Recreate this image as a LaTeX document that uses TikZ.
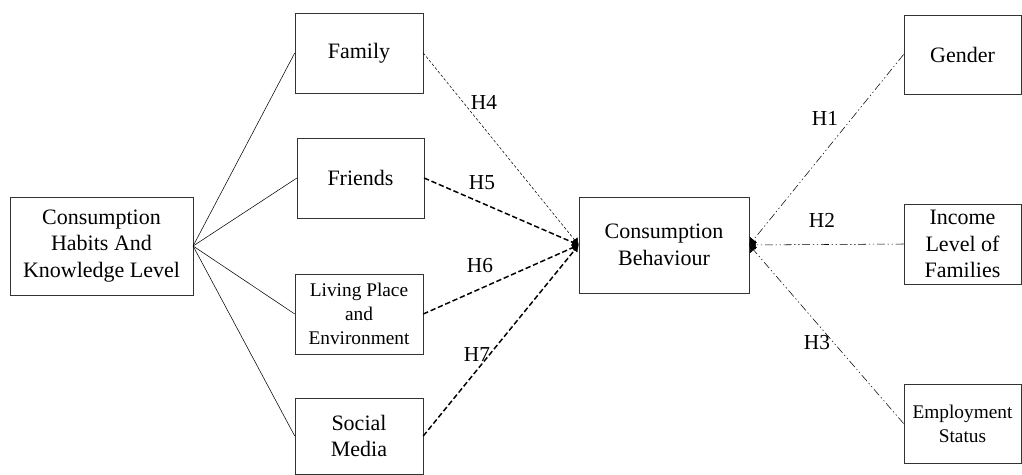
\documentclass[tikz,border=0pt]{standalone}
\usepackage{fontspec}
\setmainfont{Liberation Serif}
\usepackage{tikz}
\usetikzlibrary{arrows, arrows.meta}

\tikzset{
  box/.style={draw=black!80,thin,align=center,inner sep=2pt,font=\fontsize{16.5}{20}\selectfont},
  smallbox/.style={box,font=\fontsize{14.5}{18}\selectfont},
  hlabel/.style={font=\fontsize{16}{20}\selectfont},
  dotline/.style={thin,dash pattern=on 2pt off 1.5pt,-{Latex[length=5pt,width=6pt]}},
  dashline/.style={line width=1.1pt,dash pattern=on 4pt off 2pt,-{Latex[length=5pt,width=6pt]}},
  dashdot/.style={thin,dash pattern=on 6pt off 2pt on 1pt off 2pt on 1pt off 2pt,-{Latex[length=5pt,width=7pt]}}
}

\begin{document}
\begin{tikzpicture}[x=0.75pt,y=-0.75pt]
\useasboundingbox (0,0) rectangle (1022,475);
% left side
\node[box,minimum width=137pt,minimum height=73.5pt] (habit) at (101.5,246) {Consumption\\Habits And\\Knowledge Level};
\node[box,minimum width=96pt,minimum height=60pt] (family) at (359,53) {Family};
\node[box,minimum width=95pt,minimum height=60pt] (friends) at (360.5,178) {Friends};
\node[smallbox,minimum width=96pt,minimum height=60pt] (living) at (359,314) {Living Place\\and\\Environment};
\node[box,minimum width=96pt,minimum height=57pt] (social) at (359,436) {Social\\Media};
% middle
\node[box,minimum width=127.5pt,minimum height=72pt] (behav) at (664,245) {Consumption\\Behaviour};
% right side
\node[box,minimum width=88pt,minimum height=59pt] (gender) at (962.5,54.5) {Gender};
\node[box,minimum width=88pt,minimum height=60pt] (income) at (962.5,244) {Income\\Level of\\Families};
\node[smallbox,minimum width=88pt,minimum height=59pt] (employ) at (962.5,423.5) {Employment\\Status};

\draw[thin] (habit.east) -- (family.west);
\draw[thin] (habit.east) -- (friends.west);
\draw[thin] (habit.east) -- (living.west);
\draw[thin] (habit.east) -- (social.west);

\draw[dotline]  (family.east) -- (behav.west);
\draw[dashline] (friends.east) -- (behav.west);
\draw[dashline] (living.east) -- (behav.west);
\draw[dashline] (social.east) -- (behav.west);

\draw[dashdot] (gender.west) -- (behav.east);
\draw[dashdot] (income.west) -- (behav.east);
\draw[dashdot] (employ.west) -- (behav.east);

\node[hlabel] (h4) at (484,102) {H4};
\node[hlabel] (h5) at (482,183) {H5};
\node[hlabel] (h6) at (480,266) {H6};
\node[hlabel] (h7) at (477,355) {H7};
\node[hlabel] (h1) at (825,118) {H1};
\node[hlabel] (h2) at (822,220) {H2};
\node[hlabel] (h3) at (817,343) {H3};
\end{tikzpicture}
\end{document}
